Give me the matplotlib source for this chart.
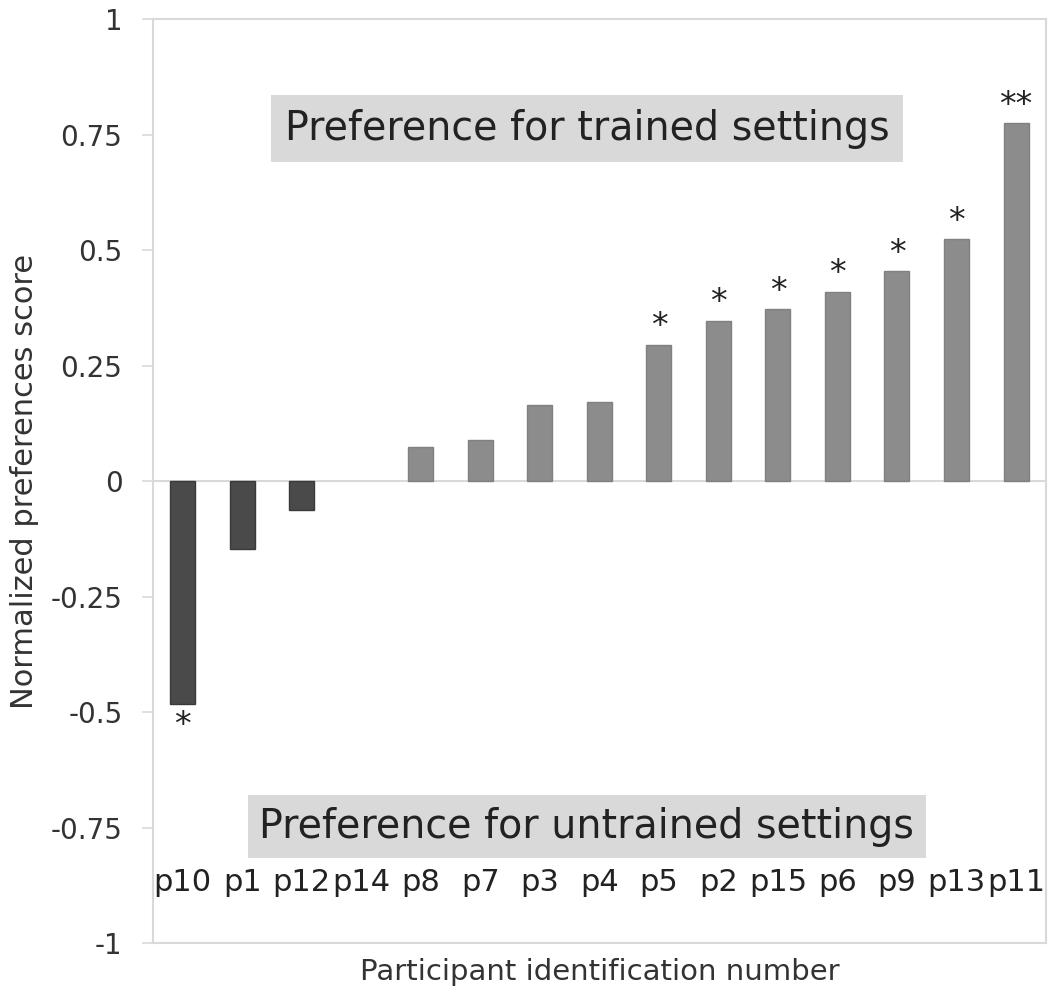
import matplotlib
matplotlib.use("Agg")
import matplotlib.pyplot as plt
import numpy as np

participants = ["p10", "p1", "p12", "p14", "p8", "p7", "p3", "p4", "p5",
                "p2", "p15", "p6", "p9", "p13", "p11"]
scores = [-0.482, -0.147, -0.062, 0.0, 0.074, 0.088, 0.164, 0.171, 0.295,
          0.347, 0.372, 0.41, 0.454, 0.524, 0.775]
significance = ["*", "", "", "", "", "", "", "", "*", "*", "*", "*", "*", "*", "**"]
yticks = [-1, -0.75, -0.5, -0.25, 0, 0.25, 0.5, 0.75, 1]
ytick_labels = ["-1", "-0.75", "-0.5", "-0.25", "0", "0.25", "0.5", "0.75", "1"]

plt.rcParams['font.family'] = ['DejaVu Sans']

fig = plt.figure(figsize=(10.5, 10.05), dpi=100)
ax = fig.add_axes([0.1457, 0.0617, 0.996 - 0.1457, 0.981 - 0.0617])

x = np.arange(len(participants))
colors = ["#4a4a4a" if s < 0 else "#8c8c8c" for s in scores]
edges = ["#3a3a3a" if s < 0 else "#808080" for s in scores]
lws = [0 if s == 0 else 1 for s in scores]
ax.bar(x, scores, width=0.42, color=colors, edgecolor=edges, linewidth=lws, zorder=3)

ax.axhline(0, color="#d9d9d9", linewidth=1.5, zorder=2)

for xi, s, sig in zip(x, scores, significance):
    if not sig:
        continue
    if s < 0:
        ax.text(xi, s - 0.012, sig, ha="center", va="top", fontsize=24, color="#222222")
    else:
        ax.text(xi, s + 0.003, sig, ha="center", va="bottom", fontsize=24, color="#222222")

ax.set_xlim(-0.5, len(participants) - 0.5)
ax.set_ylim(-1, 1)
ax.set_yticks(yticks)
ax.set_yticklabels(ytick_labels, fontsize=20, color="#333333")
ax.set_xticks(x)
ax.set_xticklabels(participants, fontsize=22, color="#222222")
ax.tick_params(axis="x", length=0, pad=-54)
ax.tick_params(axis="y", length=8, color="#d9d9d9", width=1.2, pad=14)

for sp in ax.spines.values():
    sp.set_color("#d9d9d9")
    sp.set_linewidth(1.5)

ax.text(6.79, 0.763, "Preference for trained settings", ha="center", va="center",
        fontsize=28.5, color="#222222",
        bbox=dict(boxstyle="square,pad=0.35", facecolor="#d9d9d9", edgecolor="none"))
ax.text(6.79, -0.748, "Preference for untrained settings", ha="center", va="center",
        fontsize=28.5, color="#222222",
        bbox=dict(boxstyle="square,pad=0.3", facecolor="#d9d9d9", edgecolor="none"))

ax.set_ylabel("Normalized preferences score", fontsize=22, color="#333333")
ax.yaxis.set_label_coords(-0.128, 0.5)
ax.set_xlabel("Participant identification number", fontsize=21, color="#333333")
ax.xaxis.set_label_coords(0.5, -0.016)

fig.savefig("out.png", dpi=100, facecolor="white")
